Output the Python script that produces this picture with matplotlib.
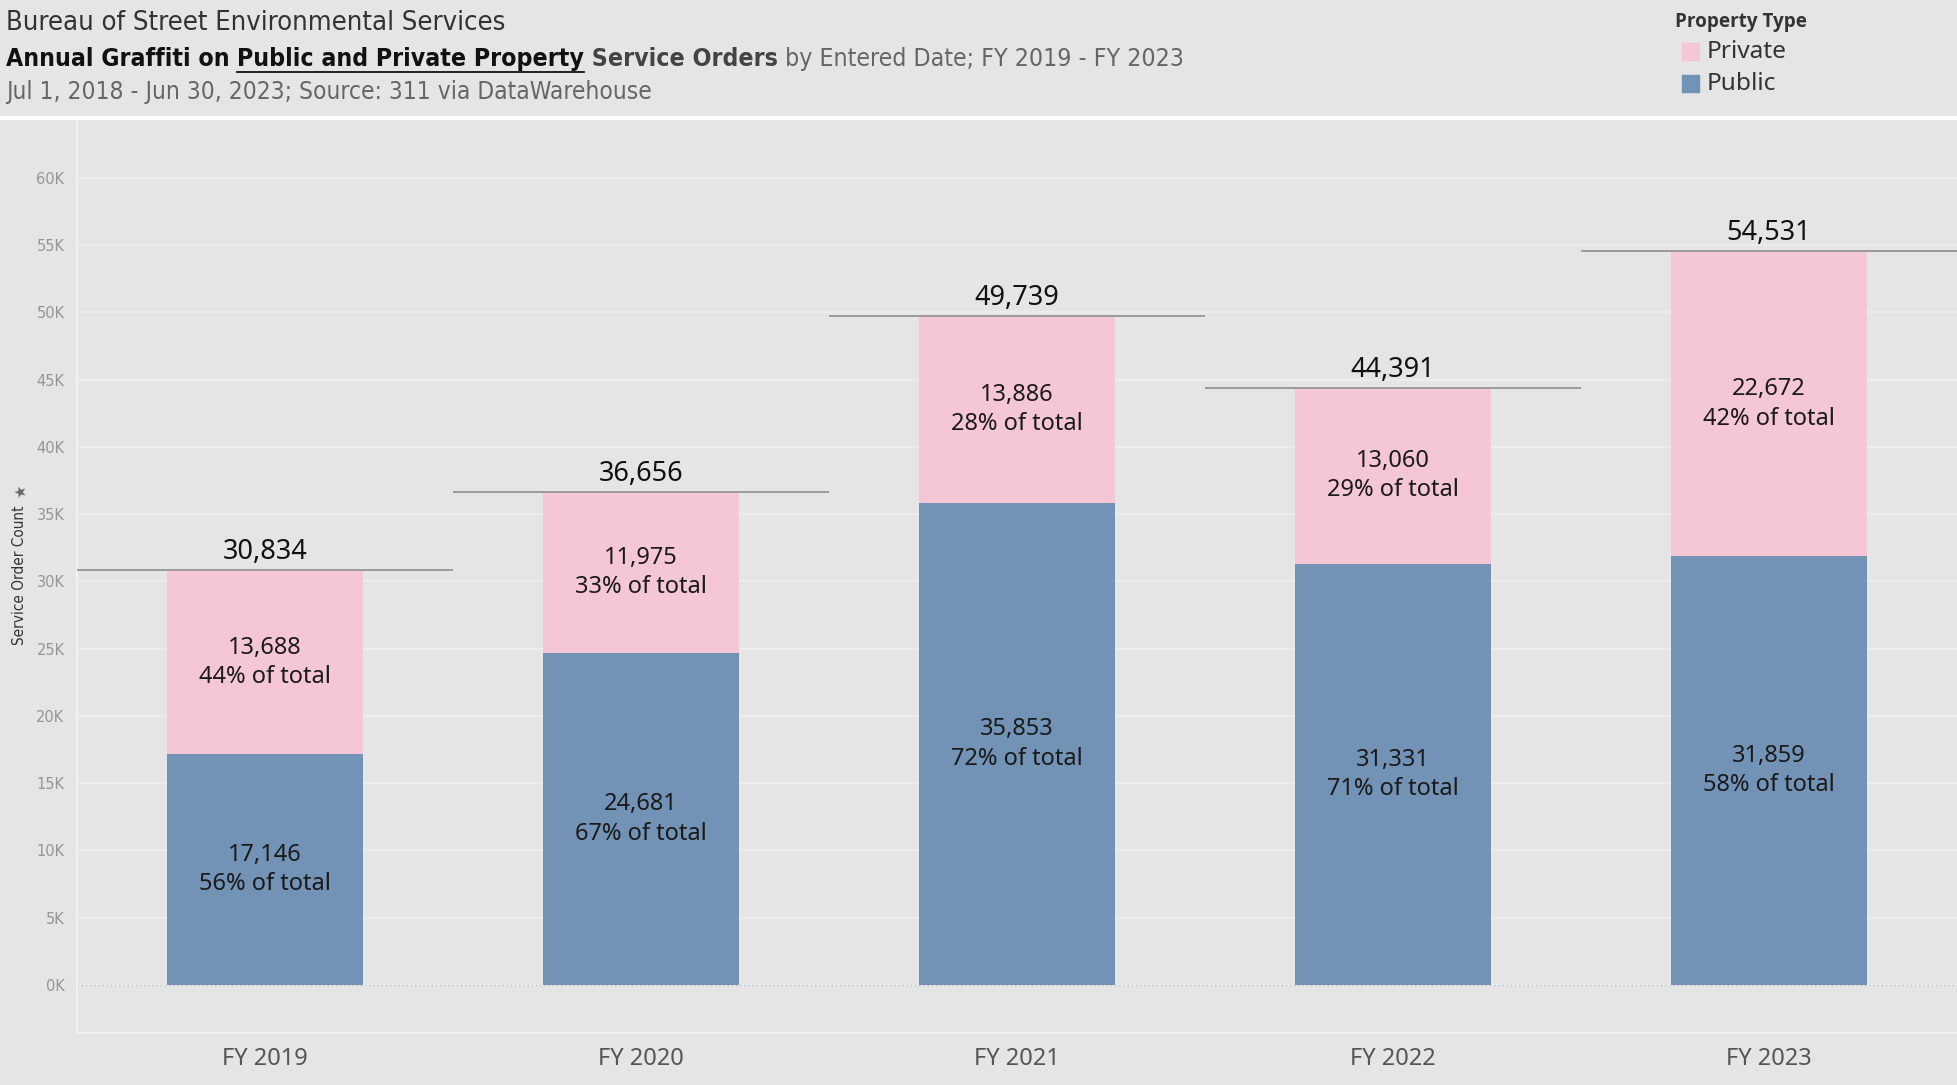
import matplotlib
matplotlib.use("Agg")
import matplotlib.pyplot as plt
from matplotlib.lines import Line2D
from matplotlib.patches import Rectangle

# data
years = ["FY 2019", "FY 2020", "FY 2021", "FY 2022", "FY 2023"]
public = [17146, 24681, 35853, 31331, 31859]
private = [13688, 11975, 13886, 13060, 22672]
public_pct = [56, 67, 72, 71, 58]
private_pct = [44, 33, 28, 29, 42]
totals = [30834, 36656, 49739, 44391, 54531]
y_ticks = list(range(0, 60001, 5000))
y_tick_labels = ["%dK" % (v // 1000) for v in y_ticks]

BG = "#E5E5E5"
PINK = "#F5C6D6"
BLUE = "#7293B6"
HEAD = ["DejaVu Sans"]
BODY = ["Noto Sans", "DejaVu Sans"]

W, H = 1957, 1085
fig = plt.figure(figsize=(W / 100, H / 100), dpi=100, facecolor=BG)


def fx(px):
    return px / W


def fy(py):
    return 1 - py / H


ax = fig.add_axes([fx(77), fy(1033), 1 - fx(77), (1033 - 120) / H])
ax.set_facecolor(BG)

x = list(range(len(years)))
ax.bar(x, public, width=0.52, color=BLUE, zorder=3)
ax.bar(x, private, width=0.52, bottom=public, color=PINK, zorder=3)

for i in x:
    ax.text(i, public[i] / 2, "{:,}\n{}% of total".format(public[i], public_pct[i]),
            ha="center", va="center", fontsize=17, family=BODY, color="#1a1a1a",
            linespacing=1.3, zorder=4)
    ax.text(i, public[i] + private[i] / 2, "{:,}\n{}% of total".format(private[i], private_pct[i]),
            ha="center", va="center", fontsize=17, family=BODY, color="#1a1a1a",
            linespacing=1.3, zorder=4)
    ax.hlines(totals[i], i - 0.5, i + 0.5, color="#959595", lw=1.3, zorder=4)
    ax.annotate("{:,}".format(totals[i]), (i, totals[i]), xytext=(0, 13),
                textcoords="offset points", ha="center", va="center",
                fontsize=19.5, family=BODY, color="#111111")

ax.set_xlim(-0.5, 4.5)
ax.set_ylim(-3570, 64300)
ax.set_yticks(y_ticks)
ax.set_yticklabels(y_tick_labels)
ax.set_xticks(x)
ax.set_xticklabels(years)
ax.tick_params(axis="y", length=0, pad=9, labelsize=10.5, labelcolor="#959595")
ax.tick_params(axis="x", length=0, pad=10, labelsize=17, labelcolor="#555555")
for lab in ax.get_xticklabels():
    lab.set_family(BODY)

ax.grid(axis="y", color="#EFEFEF", lw=1.1, zorder=0)
ax.axhline(0, color="#bdbdbd", lw=1, ls=(0, (1, 2)), zorder=2)
for s in ["top", "right"]:
    ax.spines[s].set_visible(False)
ax.spines["left"].set_color("#F2F2F2")
ax.spines["bottom"].set_color("#F2F2F2")
ax.spines["left"].set_linewidth(1.5)
ax.spines["bottom"].set_linewidth(1.5)

fig.text(fx(20), fy(575), "Service Order Count", rotation=90, ha="center", va="center",
         fontsize=11, family=HEAD, fontstretch="condensed", color="#333333")
fig.text(fx(20), fy(492), "\u2605", ha="center", va="center", fontsize=11,
         family=HEAD, color="#666666", rotation=20)

# header separator
fig.add_artist(Line2D([0, 1], [fy(118), fy(118)], color="white", lw=3))

# header
fig.text(fx(6), fy(23), "Bureau of Street Environmental Services", ha="left", va="center",
         fontsize=19.6, family=HEAD, fontstretch="condensed", color="#333333")

r = fig.canvas.get_renderer()
parts = [("Annual Graffiti on ", "semibold", "#111111", False),
         ("Public and Private Property", "semibold", "#111111", True),
         (" Service Orders", "semibold", "#444444", False),
         (" by Entered Date; FY 2019 - FY 2023", "normal", "#666666", False)]
xp = 6
for txt, wt, col, ul in parts:
    t = fig.text(fx(xp), fy(59), txt, ha="left", va="center", fontsize=17.8,
                 family=HEAD, fontstretch="condensed", weight=wt, color=col)
    bb = t.get_window_extent(r)
    if ul:
        fig.add_artist(Line2D([fx(xp), fx(xp + bb.width)], [fy(72), fy(72)],
                              color="#111111", lw=1.3))
    xp += bb.width

fig.text(fx(6), fy(92), "Jul 1, 2018 - Jun 30, 2023; Source: 311 via DataWarehouse",
         ha="left", va="center", fontsize=17.6, family=HEAD, fontstretch="condensed",
         color="#666666")

# legend
fig.text(fx(1675), fy(22), "Property Type", ha="left", va="center", fontsize=13.6,
         family=["Open Sans", "DejaVu Sans"], weight="bold", color="#333333")
for yy, col, lab in [(52, PINK, "Private"), (84, BLUE, "Public")]:
    fig.add_artist(Rectangle((fx(1682), fy(yy + 8)), fx(17), 17 / H, color=col))
    fig.text(fx(1707), fy(yy), lab, ha="left", va="center", fontsize=17.6,
             family=BODY, color="#333333")

plt.savefig("out.png", dpi=100, facecolor=BG)
